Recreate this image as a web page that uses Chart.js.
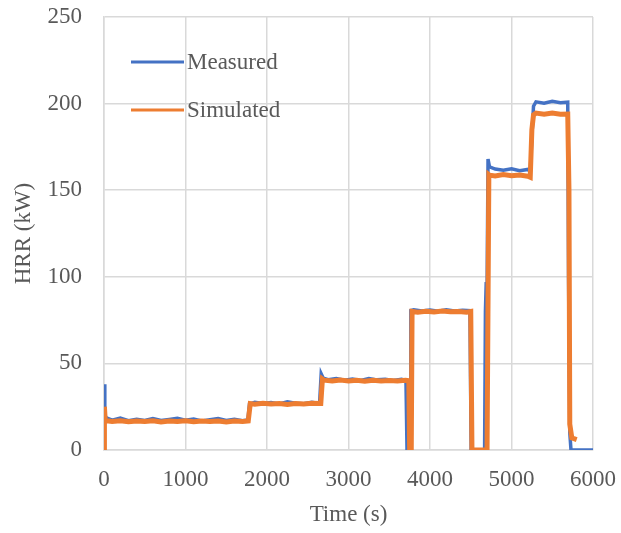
<!DOCTYPE html>
<html>
<head>
<meta charset="utf-8">
<title>HRR</title>
<script src="https://cdn.jsdelivr.net/npm/chart.js@4.4.1/dist/chart.umd.min.js"></script>
<style>
html, body { margin: 0; padding: 0; background: #fff; }
#wrap { width: 621px; height: 533px; position: relative; }
</style>
</head>
<body>
<div id="wrap"><canvas id="canvas"></canvas></div>
<script>
// values (time in s, HRR in kW)
var measuredTime = [0, 10, 30, 100, 200, 300, 400, 500, 600, 700, 800, 900, 1000, 1100, 1200, 1300, 1400, 1500, 1600, 1700, 1765,
	1785, 1850, 1950, 2050, 2150, 2250, 2350, 2450, 2550, 2645,
	2665, 2690, 2750, 2850, 2950, 3050, 3150, 3250, 3350, 3450, 3550, 3650, 3705,
	3718, 3755, 3765, 3800, 3900, 4000, 4100, 4200, 4300, 4400, 4490,
	4505, 4670, 4680, 4690, 4700, 4712, 4730, 4800, 4900, 5000, 5100, 5200, 5230,
	5255, 5270, 5300, 5400, 5500, 5600, 5690, 5700, 5715, 5730, 6000];
var measuredHRR = [38, 20, 18.5, 17.2, 18.4, 16.9, 17.8, 17.1, 18.2, 17.0, 17.6, 18.3, 17.2, 17.9, 16.8, 17.5, 18.1, 17.0, 17.7, 16.9, 17.4,
	26.5, 27.6, 26.8, 27.4, 26.6, 27.8, 27.0, 26.7, 27.5, 26.9,
	44, 41.5, 40.6, 41.2, 40.3, 41.0, 40.2, 41.3, 40.5, 40.9, 40.1, 40.8, 40.2,
	0, 0, 80.5, 81, 80.2, 80.8, 80.1, 80.9, 80.3, 80.7, 80.4,
	0, 0, 80, 97, 90, 168, 163.5, 162.2, 161.5, 162.4, 161.2, 162.0, 160.8,
	185, 198.5, 201, 200.2, 201.3, 200.5, 200.8, 100, 10, 0, 0];

var simulatedTime = [0, 5, 15, 100, 200, 300, 400, 500, 600, 700, 800, 900, 1000, 1100, 1200, 1300, 1400, 1500, 1600, 1700, 1770,
	1795, 1850, 1950, 2050, 2150, 2250, 2350, 2450, 2550, 2660,
	2680, 2700, 2800, 2900, 3000, 3100, 3200, 3300, 3400, 3500, 3600, 3700, 3740,
	3750, 3770, 3780, 3850, 3950, 4050, 4150, 4250, 4350, 4450, 4500,
	4515, 4700, 4722, 4730, 4800, 4900, 5000, 5100, 5200, 5230,
	5250, 5270, 5300, 5400, 5500, 5600, 5690, 5705, 5715, 5740, 5800];
var simulatedHRR = [0, 25, 17, 16.5, 16.9, 16.3, 16.8, 16.4, 16.9, 16.2, 16.7, 16.5, 16.9, 16.3, 16.8, 16.4, 16.7, 16.2, 16.8, 16.5, 16.8,
	26.8, 26.4, 27.0, 26.5, 26.9, 26.3, 26.8, 26.6, 27.0, 26.9,
	41, 40.3, 39.8, 40.4, 39.9, 40.2, 39.7, 40.3, 39.9, 40.1, 39.8, 40.2, 40,
	0, 0, 80, 79.6, 80.1, 79.7, 80.2, 79.8, 80.0, 79.6, 80,
	0, 0, 159, 158.7, 158.2, 159.0, 158.4, 158.8, 158.1, 157.5,
	185, 193.5, 194.5, 193.8, 194.6, 193.9, 194, 150, 15, 7, 6];

var xTicks = [0, 1000, 2000, 3000, 4000, 5000, 6000];
var yTicks = [0, 50, 100, 150, 200, 250];

function toPoints(t, v){
	var pts = new Array();
	for(var i = 0; i < t.length; i++){
		pts.push({x: t[i], y: v[i]});
	}
	return pts;
}

var textColor = "#595959";
var gridColor = "#d9d9d9";
var serif = "'Liberation Serif', 'Times New Roman', serif";
var fontSize = 23;

// legend drawn inside the plot, top-left, like the original
var insideLegend = {
	id: "insideLegend",
	afterDraw: function(chart){
		var ctx = chart.ctx;
		var rows = [62, 110];
		ctx.save();
		ctx.font = "23px " + serif;
		ctx.textBaseline = "middle";
		ctx.textAlign = "left";
		for(var i = 0; i < chart.data.datasets.length; i++){
			var ds = chart.data.datasets[i];
			ctx.strokeStyle = ds.borderColor;
			ctx.lineWidth = 3;
			ctx.beginPath();
			ctx.moveTo(131, rows[i]);
			ctx.lineTo(184, rows[i]);
			ctx.stroke();
			ctx.fillStyle = textColor;
			ctx.fillText(ds.label, 187, rows[i] + 1);
		}
		ctx.restore();
	}
};

var canvas = document.getElementById("canvas");
canvas.width = 621;
canvas.height = 533;
var ctx = canvas.getContext("2d");

var chart = new Chart(ctx, {
	type: "line",
	data: {
		datasets: [{
			label: "Measured",
			data: toPoints(measuredTime, measuredHRR),
			borderColor: "#4472c4",
			borderWidth: 3.5,
			pointRadius: 0,
			fill: false,
			order: 2
		}, {
			label: "Simulated",
			data: toPoints(simulatedTime, simulatedHRR),
			borderColor: "#ed7d31",
			borderWidth: 5,
			pointRadius: 0,
			fill: false,
			order: 1
		}]
	},
	options: {
		responsive: false,
		animation: false,
		layout: {padding: {left: 0, right: 28, top: 17, bottom: 0}},
		plugins: {legend: {display: false}, tooltip: {enabled: false}},
		scales: {
			x: {
				type: "linear",
				min: 0, max: 6000,
				afterBuildTicks: function(s){ s.ticks = xTicks.map(function(v){ return {value: v}; }); },
				afterFit: function(s){ s.height = 83; s.paddingLeft = 0; s.paddingRight = 0; },
				grid: {color: gridColor, lineWidth: 1.5, drawTicks: false},
				border: {color: gridColor, width: 1.5},
				ticks: {color: textColor, font: {family: serif, size: fontSize}, padding: 16, maxRotation: 0,
					callback: function(v){ return String(v); }},
				title: {display: true, text: "Time (s)", color: textColor, font: {family: serif, size: fontSize}, padding: {top: 2}}
			},
			y: {
				min: 0, max: 250,
				afterBuildTicks: function(s){ s.ticks = yTicks.map(function(v){ return {value: v}; }); },
				afterFit: function(s){ s.width = 104; s.paddingTop = 0; s.paddingBottom = 0; },
				grid: {color: gridColor, lineWidth: 1.5, drawTicks: false},
				border: {color: gridColor, width: 1.5},
				ticks: {color: textColor, font: {family: serif, size: fontSize}, padding: 22,
					callback: function(v){ return String(v); }},
				title: {display: true, text: "HRR (kW)", color: textColor, font: {family: serif, size: fontSize}, padding: {top: 10, bottom: 0}}
			}
		}
	},
	plugins: [insideLegend]
});
</script>
</body>
</html>
